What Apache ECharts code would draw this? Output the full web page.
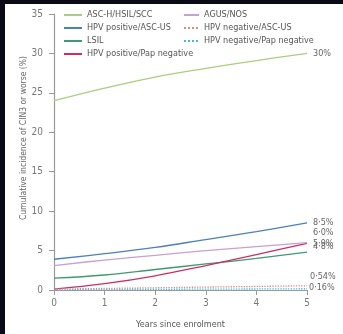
<!DOCTYPE html>
<html><head><meta charset="utf-8">
<script src="https://cdn.jsdelivr.net/npm/echarts@6/dist/echarts.min.js"></script>
<style>html,body{margin:0;padding:0;background:#fff}#c{width:343px;height:334px}</style>
</head><body><div id="c"></div>
<script>
const years = [0, 1, 2, 3, 4, 5];
const yTicks = [0, 5, 10, 15, 20, 25, 30, 35];
const ascH = [24.0, 25.6, 27.0, 28.1, 29.1, 30.0];
const hpvPosAscus = [3.9, 4.6, 5.4, 6.4, 7.4, 8.5];
const lsil = [1.5, 1.9, 2.6, 3.3, 4.0, 4.8];
const hpvPosPapNeg = [0.1, 0.8, 1.8, 3.1, 4.5, 5.9];
const agus = [3.1, 3.8, 4.4, 5.0, 5.5, 6.0];
const hpvNegAscus = [0.12, 0.2, 0.28, 0.37, 0.45, 0.54];
const hpvNegPapNeg = [0.02, 0.05, 0.08, 0.11, 0.13, 0.16];
const endText = ['30%', '8·5%', '4·8%', '5·9%', '6·0%', '0·54%', '0·16%'];

const FONT = "'DejaVu Sans Condensed','Liberation Sans Narrow',sans-serif";
const pairs = d => d.map((v, i) => [years[i], v]);

function mk(name, data, color, idx, offset, type) {
  return {
    name, type: 'line', data: pairs(data), symbol: 'none', showSymbol: false, smooth: 0.4,
    lineStyle: {color, width: 1.3, type: type || 'solid'},
    itemStyle: {color},
    endLabel: {show: true, formatter: endText[idx], color: '#666', fontSize: 9,
      fontFamily: FONT, offset: offset || [0, 0], distance: 6},
    z: 3
  };
}

const legendText = {fontSize: 9, fontFamily: FONT, color: '#555', lineHeight: 11};
const chart = echarts.init(document.getElementById('c'), null, {renderer: 'canvas'});
chart.setOption({
  animation: false,
  backgroundColor: '#fff',
  grid: {left: 54, right: 36, top: 14, bottom: 43},
  legend: [{
    left: 58, top: 4.5, orient: 'vertical', itemWidth: 18, itemHeight: 10, itemGap: 2,
    itemStyle: {opacity: 0},
    textStyle: legendText,
    data: ['ASC-H/HSIL/SCC', 'HPV positive/ASC-US', 'LSIL', 'HPV positive/Pap negative']
  }, {
    left: 178, top: 4.5, orient: 'vertical', itemWidth: 15, itemHeight: 10, itemGap: 2,
    itemStyle: {opacity: 0},
    textStyle: legendText,
    data: ['AGUS/NOS', 'HPV negative/ASC-US', 'HPV negative/Pap negative']
  }],
  xAxis: {
    type: 'value', min: 0, max: 5, interval: 1,
    name: 'Years since enrolment', nameLocation: 'middle', nameGap: 30,
    nameTextStyle: {fontSize: 9, fontFamily: FONT, color: '#555'},
    axisLine: {lineStyle: {color: '#999', width: 1.2}},
    axisTick: {length: 5, lineStyle: {color: '#999'}},
    axisLabel: {fontSize: 10, fontFamily: FONT, color: '#777', margin: 8},
    splitLine: {show: false}
  },
  yAxis: {
    type: 'value', min: 0, max: 35, interval: 5,
    axisLine: {show: true, lineStyle: {color: '#999', width: 1.2}},
    axisTick: {show: true, length: 5, lineStyle: {color: '#999'}},
    axisLabel: {fontSize: 10, fontFamily: FONT, color: '#777', margin: 11,
      formatter: v => yTicks.includes(v) ? String(v) : ''},
    splitLine: {show: false}
  },
  graphic: [
    {type: 'text', x: 24, y: 138, rotation: Math.PI / 2,
     style: {text: 'Cumulative incidence of CIN3 or worse (%)', fontSize: 8.5, fontFamily: FONT,
       fill: '#666', align: 'center', verticalAlign: 'middle'}},
    {type: 'rect', x: 0, y: 0, shape: {x: 0, y: 0, width: 343, height: 4}, style: {fill: '#0a0a14'}, z: 100},
    {type: 'rect', x: 0, y: 0, shape: {x: 0, y: 0, width: 5, height: 334}, style: {fill: '#0a0a14'}, z: 100}
  ],
  series: [
    mk('ASC-H/HSIL/SCC', ascH, '#a9cf7e', 0, [0, 0]),
    mk('HPV positive/ASC-US', hpvPosAscus, '#4d7fb8', 1, [0, 0]),
    mk('LSIL', lsil, '#3f9a72', 2, [0, -5]),
    mk('HPV positive/Pap negative', hpvPosPapNeg, '#cc2e60', 3, [0, 0]),
    mk('AGUS/NOS', agus, '#c7a0d4', 4, [0, -10]),
    mk('HPV negative/ASC-US', hpvNegAscus, '#e8837f', 5, [-3, -9], 'dotted'),
    mk('HPV negative/Pap negative', hpvNegPapNeg, '#4cb6d8', 6, [-4, -1], 'dotted')
  ]
});
</script></body></html>
